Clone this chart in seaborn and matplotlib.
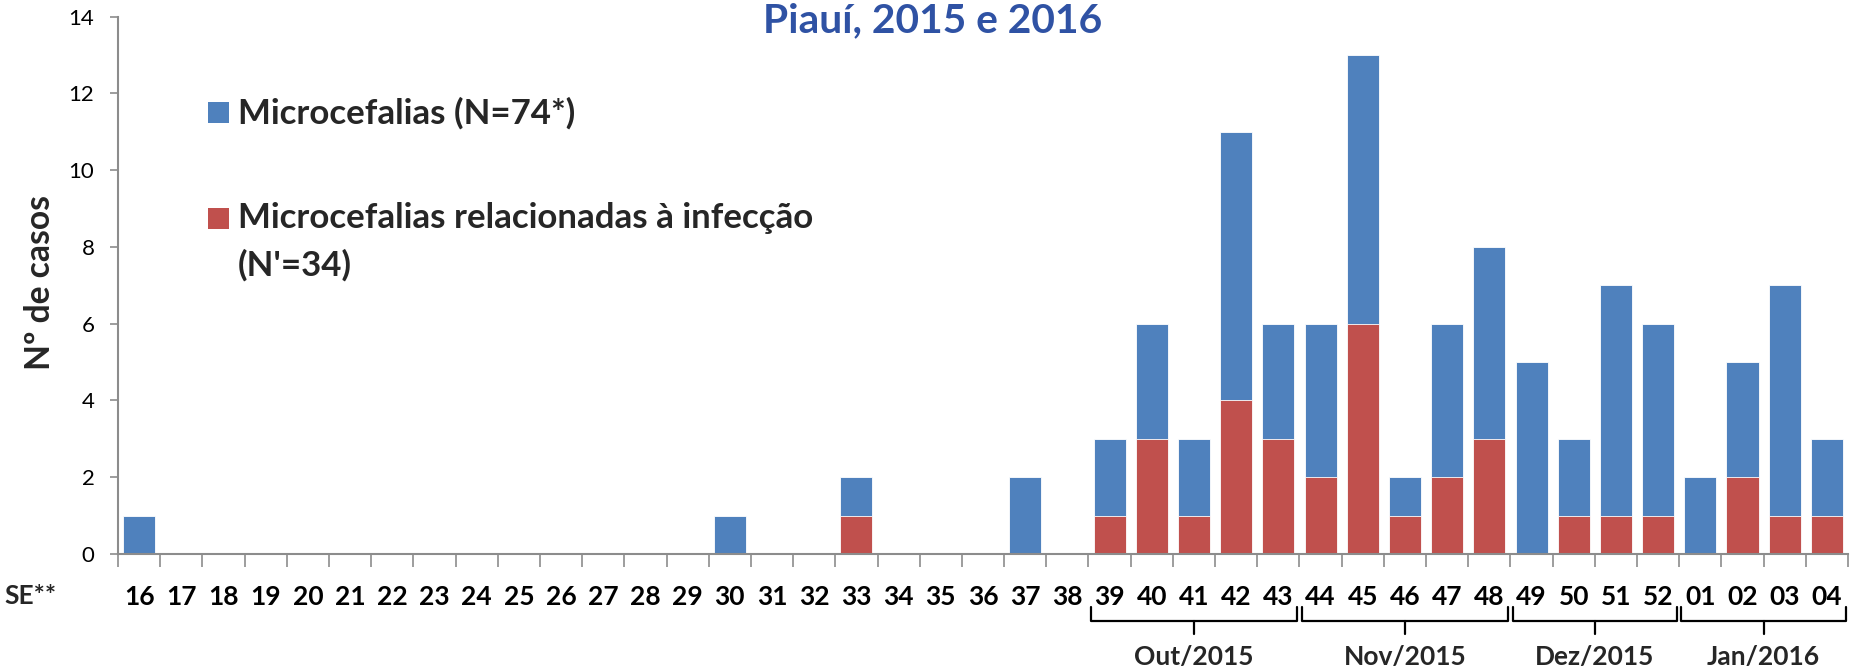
import numpy as np
import pandas as pd
import matplotlib
matplotlib.use("Agg")
import matplotlib.pyplot as plt
from matplotlib.patches import Rectangle
from matplotlib.transforms import blended_transform_factory
import seaborn as sns

# semanas epidemiologicas (SE)
weeks = [str(w) for w in range(16, 53)] + ["01", "02", "03", "04"]

# microcefalias sem relacao (segmento azul) e relacionadas a infeccao (vermelho)
micro_blue = [1, 0, 0, 0, 0, 0, 0, 0, 0, 0, 0, 0, 0, 0, 1, 0, 0, 1, 0, 0, 0,
              2, 0, 2, 3, 2, 7, 3, 4, 7, 1, 4, 5, 5, 2, 6, 5, 2, 3, 6, 2]
micro_red = [0, 0, 0, 0, 0, 0, 0, 0, 0, 0, 0, 0, 0, 0, 0, 0, 0, 1, 0, 0, 0,
             0, 0, 1, 3, 1, 4, 3, 2, 6, 1, 2, 3, 0, 1, 1, 1, 0, 2, 1, 1]

# meses abaixo do eixo: rotulo, primeira SE, ultima SE
months = ["Out/2015", "Nov/2015", "Dez/2015", "Jan/2016"]
month_first = ["39", "44", "49", "01"]
month_last = ["43", "48", "52", "04"]

yticks = [0, 2, 4, 6, 8, 10, 12, 14]

BLUE = "#4F81BD"
RED = "#C0504D"
TITLE = "#2F52A4"
GRID = "#8C8C8C"

df = pd.DataFrame({"SE": weeks,
                   "azul": micro_blue,
                   "vermelho": micro_red})
df["total"] = df["azul"] + df["vermelho"]

sns.set_theme(style="white")
plt.rcParams["font.family"] = ["Lato", "DejaVu Sans"]

W, H = 1855, 670
fig = plt.figure(figsize=(W / 100, H / 100), dpi=100)
ax = fig.add_axes([118 / W, (H - 554) / H, (1848 - 118) / W, (554 - 16.6) / H])
renderer = fig.canvas.get_renderer()


def fit(txt, target_px, vertical=False):
    """Ajusta o tamanho da fonte para a largura medida na referencia."""
    bb = txt.get_window_extent(renderer)
    size = bb.height if vertical else bb.width
    txt.set_fontsize(txt.get_fontsize() * target_px / size)
    return txt.get_fontsize()


sns.barplot(data=df, x="SE", y="total", order=weeks, color=BLUE,
            width=0.76, saturation=1, edgecolor="white", linewidth=0.6, ax=ax)
sns.barplot(data=df, x="SE", y="vermelho", order=weeks, color=RED,
            width=0.76, saturation=1, edgecolor="white", linewidth=0.6, ax=ax)

ax.set_ylim(0, 14)
ax.set_xlim(-0.5, len(weeks) - 0.5)
ax.set_yticks(yticks)
ax.set_yticklabels([str(v) for v in yticks], fontsize=16, color="black")

# rotulos no centro, tracos entre as categorias
ax.set_xticks(np.arange(len(weeks)))
ax.set_xticklabels(weeks, fontsize=19, fontweight="bold", color="black")
ax.set_xticks(np.arange(len(weeks) + 1) - 0.5, minor=True)
ax.tick_params(axis="x", which="major", length=0, pad=22)
ax.tick_params(axis="x", which="minor", length=9, width=1.2, color=GRID,
               direction="out", bottom=True)
ax.tick_params(axis="y", length=6, width=1.2, color=GRID, direction="out",
               left=True, pad=11)

ax.set_xlabel("")
ax.set_ylabel("")
sns.despine(ax=ax, top=True, right=True)
for side in ("left", "bottom"):
    ax.spines[side].set_color(GRID)
    ax.spines[side].set_linewidth(1.5)

ylab = fig.text(40 / W, 1 - 282 / H, "Nº de casos", fontsize=24,
                fontweight="bold", rotation=90, ha="center", va="center")
fit(ylab, 175, vertical=True)

fig.text(4 / W, 1 - 596 / H, "SE**", fontsize=19, fontweight="bold",
         ha="left", va="center")

title = fig.text(933 / W, 1 - 32 / H, "Piauí, 2015 e 2016", fontsize=28,
                 fontweight="bold", color=TITLE, ha="center", va="baseline")
fit(title, 340)

# legenda
fig.add_artist(Rectangle((208 / W, 1 - 123 / H), 21 / W, 21 / H,
                         facecolor=BLUE, edgecolor="none",
                         transform=fig.transFigure))
fig.add_artist(Rectangle((208 / W, 1 - 229 / H), 21 / W, 21 / H,
                         facecolor=RED, edgecolor="none",
                         transform=fig.transFigure))
leg2 = fig.text(238 / W, 1 - 218 / H, "Microcefalias relacionadas à infecção",
                fontsize=24, fontweight="bold", ha="left", va="center")
leg_size = fit(leg2, 577)
fig.text(238 / W, 1 - 113 / H, "Microcefalias (N=74*)", fontsize=leg_size,
         fontweight="bold", ha="left", va="center")
fig.text(238 / W, 1 - 265 / H, "(N'=34)", fontsize=leg_size,
         fontweight="bold", ha="left", va="center")

# chaves dos meses
tr = blended_transform_factory(ax.transData, fig.transFigure)
y_top, y_mid, y_tip = 1 - 607 / H, 1 - 621 / H, 1 - 634 / H
for label, first, last in zip(months, month_first, month_last):
    x0 = weeks.index(first) - 0.45
    x1 = weeks.index(last) + 0.45
    xc = (x0 + x1) / 2
    ax.plot([x0, x0, x1, x1], [y_top, y_mid, y_mid, y_top], color="black",
            lw=1.6, transform=tr, clip_on=False, solid_joinstyle="round")
    ax.plot([xc, xc], [y_mid, y_tip], color="black", lw=1.6,
            transform=tr, clip_on=False)
    ax.text(xc, 1 - 657 / H, label, fontsize=19, fontweight="bold",
            ha="center", va="center", transform=tr)

fig.savefig("out.png", dpi=100)
plt.close(fig)
